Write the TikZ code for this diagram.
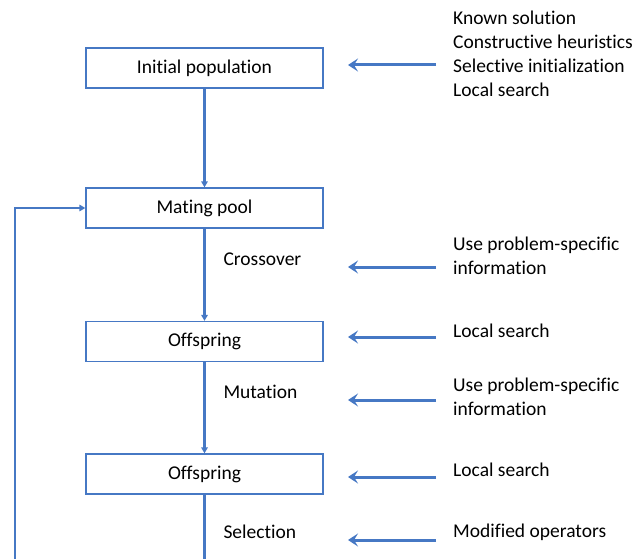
\documentclass[tikz,border=0pt]{standalone}
\usepackage{fontspec}
\setmainfont{Carlito}[Ligatures=NoCommon]
\usetikzlibrary{arrows.meta}
\definecolor{flowblue}{RGB}{70,120,196}
\begin{document}
\begin{tikzpicture}[x=1pt, y=-1pt,
    stage/.style={draw=flowblue, line width=1.3pt, minimum width=237pt, minimum height=40pt, inner sep=0pt, font=\fontsize{19.5}{23}\selectfont},
    flow/.style={flowblue, line width=2.2pt, -{Triangle[length=6pt, width=6.5pt]}},
    hint/.style={flowblue, line width=3pt, -{Stealth[length=10pt, width=13pt, inset=4pt]}},
    opname/.style={anchor=west, font=\fontsize{19.5}{23}\selectfont},
    info/.style={anchor=west, align=left, inner sep=0pt, font=\fontsize{19.5}{24}\selectfont}]
  \useasboundingbox (0,0) rectangle (634,559);
  % main chain
  \node[stage] (init) at (204.5,68) {Initial population};
  \node[stage] (pool) at (204.5,208) {Mating pool};
  \node[stage] (off1) at (204.5,341.5) {Offspring};
  \node[stage] (off2) at (204.5,474) {Offspring};
  \coordinate (bot) at (204.5,562);
  \coordinate (fb) at (15,562);
  \draw[flow] (init) -- (pool);
  \draw[flow] (pool) -- (off1);
  \draw[flow] (off1) -- (off2);
  \draw[flowblue, line width=2.2pt] (off2) -- (bot);
  \draw[flow] (fb) |- (pool.west);
  % operators
  \node[opname] (cross) at (220,259) {Crossover};
  \node[opname] (mut) at (220,392) {Mutation};
  \node[opname] (sel) at (220,532) {Selection};
  % what can be added
  \node[info] (i1) at (453,54) {Known solution\\Constructive heuristics\\Selective initialization\\Local search};
  \node[info] (i2) at (453,256) {Use problem-specific\\information};
  \node[info] (i3) at (453,331) {Local search};
  \node[info] (i4) at (453,397) {Use problem-specific\\information};
  \node[info] (i5) at (453,470) {Local search};
  \node[info] (i6) at (453,532) {Modified operators};
  \foreach \y/\n in {65/1,267/2,337/3,400/4,477/5,540/6} {
    \coordinate (s\n) at (436,\y);
    \coordinate (e\n) at (348,\y);
    \draw[hint] (s\n) -- (e\n);
  }
\end{tikzpicture}
\end{document}
